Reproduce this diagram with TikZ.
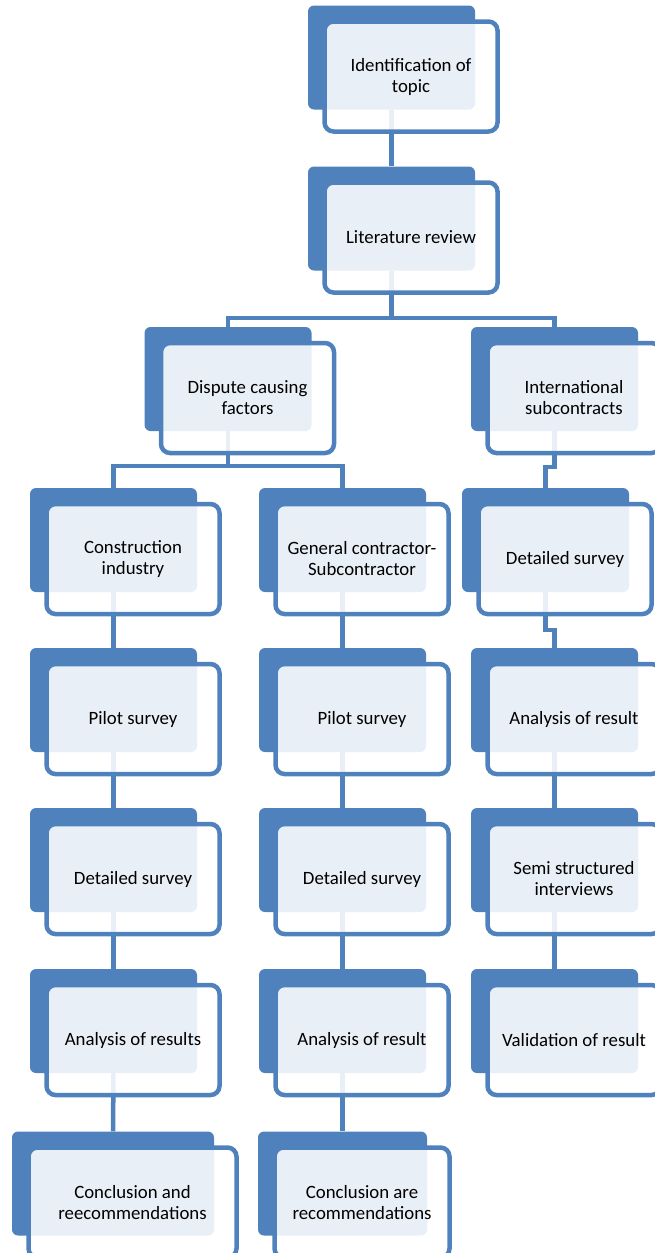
\documentclass[tikz,border=0pt]{standalone}
\usepackage{fontspec}
\setmainfont{Carlito}
\definecolor{boxblue}{RGB}{79,129,189}
\usetikzlibrary{backgrounds}

\begin{document}
\begin{tikzpicture}[
  x=1pt, y=-1pt,
  backbox/.style={fill=boxblue, rounded corners=6pt, minimum width=167pt, minimum height=104pt, inner sep=0pt},
  frontbox/.style={draw=boxblue, line width=4.5pt, fill=white, fill opacity=0.88, text opacity=1, rounded corners=9pt, minimum width=173pt, minimum height=110pt, align=center, inner sep=0pt, font=\fontsize{18.8}{21}\selectfont},
  link/.style={draw=boxblue, line width=4.5pt}
]
  \useasboundingbox (0,0) rectangle (654,1253);

  % top of the tree
  \node[backbox] (topic) at (391.5,57.5) {};
  \node[frontbox] (topic-t) at ([shift={(19.5,19)}]topic) {Identification of\\topic};
  \node[backbox] (review) at (391.5,218.5) {};
  \node[frontbox] (review-t) at ([shift={(19.5,19)}]review) {Literature review};

  \node[backbox] (dispute) at (228,379) {};
  \node[frontbox] (dispute-t) at ([shift={(19.5,19)}]dispute) {Dispute causing\\factors};
  \node[backbox] (intl) at (554.5,379) {};
  \node[frontbox] (intl-t) at ([shift={(19.5,19)}]intl) {International\\subcontracts};

  % left branch
  \node[backbox] (constr) at (113.5,540) {};
  \node[frontbox] (constr-t) at ([shift={(19.5,19)}]constr) {Construction\\industry};
  \node[backbox] (pilotci) at (113.5,700) {};
  \node[frontbox] (pilotci-t) at ([shift={(19.5,19)}]pilotci) {Pilot survey};
  \node[backbox] (detci) at (113.5,860) {};
  \node[frontbox] (detci-t) at ([shift={(19.5,19)}]detci) {Detailed survey};
  \node[backbox] (anaci) at (113.5,1021) {};
  \node[frontbox] (anaci-t) at ([shift={(19.5,19)}]anaci) {Analysis of results};
  \node[backbox, minimum width=202pt] (concci) at (113,1183.5) {};
  \node[frontbox, minimum width=208pt] (concci-t) at ([shift={(19.5,19)}]concci) {Conclusion and\\reecommendations};

  % middle branch
  \node[backbox] (gcsc) at (342.5,540) {};
  \node[frontbox] (gcsc-t) at ([shift={(19.5,19)}]gcsc) {General contractor-\\Subcontractor};
  \node[backbox] (pilotgc) at (342.5,700) {};
  \node[frontbox] (pilotgc-t) at ([shift={(19.5,19)}]pilotgc) {Pilot survey};
  \node[backbox] (detgc) at (342.5,860) {};
  \node[frontbox] (detgc-t) at ([shift={(19.5,19)}]detgc) {Detailed survey};
  \node[backbox] (anagc) at (342.5,1021) {};
  \node[frontbox] (anagc-t) at ([shift={(19.5,19)}]anagc) {Analysis of result};
  \node[backbox, minimum width=169pt] (concgc) at (342.5,1183.5) {};
  \node[frontbox, minimum width=175pt] (concgc-t) at ([shift={(19.5,19)}]concgc) {Conclusion are\\recommendations};

  % right branch
  \node[backbox] (detint) at (545.5,540) {};
  \node[frontbox] (detint-t) at ([shift={(19.5,19)}]detint) {Detailed survey};
  \node[backbox] (anaint) at (554.5,700) {};
  \node[frontbox] (anaint-t) at ([shift={(19.5,19)}]anaint) {Analysis of result};
  \node[backbox] (semi) at (554.5,860) {};
  \node[frontbox] (semi-t) at ([shift={(19.5,19)}]semi) {Semi structured\\interviews};
  \node[backbox] (valid) at (554.5,1021) {};
  \node[frontbox] (valid-t) at ([shift={(19.5,19)}]valid) {Validation of result};

  \coordinate (split1) at (391.5,318);
  \coordinate (split2) at (228,466);
  \coordinate (jog1) at (550,467);
  \coordinate (jog2) at (550,630);

  \begin{pgfonlayer}{background}
    \draw[link] (topic) -- (review);
    \draw[link] (review) -- (split1);
    \draw[link] (dispute.north) |- (split1) -| (intl.north);
    \draw[link] (dispute) -- (split2);
    \draw[link] (constr.north) |- (split2) -| (gcsc.north);
    \draw[link] (intl.south) |- (jog1) -| (detint.north);
    \draw[link] (detint.south) |- (jog2) -| (anaint.north);
    \draw[link] (constr) -- (pilotci);
    \draw[link] (pilotci) -- (detci);
    \draw[link] (detci) -- (anaci);
    \draw[link] (anaci) -- (concci);
    \draw[link] (gcsc) -- (pilotgc);
    \draw[link] (pilotgc) -- (detgc);
    \draw[link] (detgc) -- (anagc);
    \draw[link] (anagc) -- (concgc);
    \draw[link] (anaint) -- (semi);
    \draw[link] (semi) -- (valid);
  \end{pgfonlayer}
\end{tikzpicture}
\end{document}
